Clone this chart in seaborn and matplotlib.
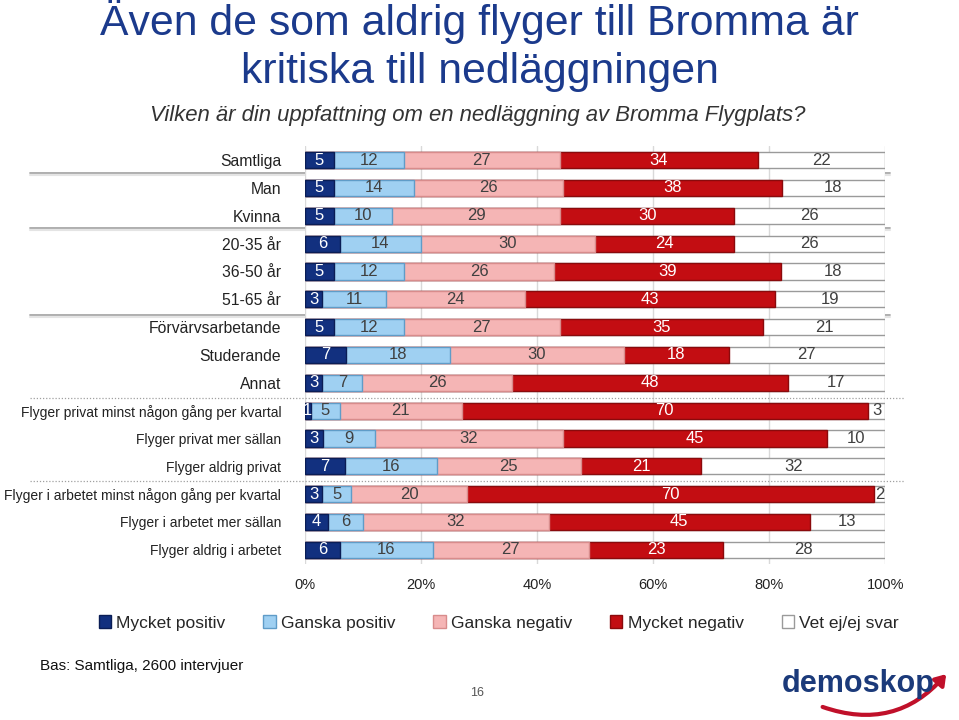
import numpy as np
import pandas as pd
import matplotlib
matplotlib.use("Agg")
import matplotlib.pyplot as plt
import matplotlib.patches as mpatches
import seaborn as sns

categories = ["Samtliga", "Man", "Kvinna", "20-35 år", "36-50 år", "51-65 år",
              "Förvärvsarbetande", "Studerande", "Annat",
              "Flyger privat minst någon gång per kvartal", "Flyger privat mer sällan",
              "Flyger aldrig privat",
              "Flyger i arbetet minst någon gång per kvartal", "Flyger i arbetet mer sällan",
              "Flyger aldrig i arbetet"]
series = ["Mycket positiv", "Ganska positiv", "Ganska negativ", "Mycket negativ", "Vet ej/ej svar"]
mycket_positiv = [5, 5, 5, 6, 5, 3, 5, 7, 3, 1, 3, 7, 3, 4, 6]
ganska_positiv = [12, 14, 10, 14, 12, 11, 12, 18, 7, 5, 9, 16, 5, 6, 16]
ganska_negativ = [27, 26, 29, 30, 26, 24, 27, 30, 26, 21, 32, 25, 20, 32, 27]
mycket_negativ = [34, 38, 30, 24, 39, 43, 35, 18, 48, 70, 45, 21, 70, 45, 23]
vet_ej = [22, 18, 26, 26, 18, 19, 21, 27, 17, 3, 10, 32, 2, 13, 28]
x_ticks = [0, 20, 40, 60, 80, 100]

colors = ["#12307f", "#9fd0f2", "#f5b5b5", "#c30d12", "#ffffff"]
edges = ["#0a1d55", "#5f9cc8", "#d88c8c", "#8a0a0c", "#9a9a9a"]
txt_colors = ["white", "#404040", "#404040", "white", "#404040"]

vals = np.array([mycket_positiv, ganska_positiv, ganska_negativ, mycket_negativ, vet_ej], dtype=float)
pct = vals / vals.sum(axis=0) * 100
cum = np.cumsum(pct, axis=0)

sns.set_theme(style="white")
plt.rcParams['font.family'] = ['Liberation Sans', 'DejaVu Sans']

fig = plt.figure(figsize=(9.59, 7.2), dpi=100)
ax = fig.add_axes([0.318, 0.217, 0.605, 0.58])

for i in range(4, -1, -1):
    df = pd.DataFrame({"cat": categories, "val": cum[i]})
    sns.barplot(data=df, x="val", y="cat", order=categories, orient="h",
                color=colors[i], edgecolor=edges[i], linewidth=1.0,
                width=0.58, saturation=1, ax=ax, zorder=3)

for i in range(5):
    for j in range(len(categories)):
        left = cum[i, j] - pct[i, j]
        cx = left + pct[i, j] / 2
        ax.text(cx, j, f"{int(vals[i, j])}", ha="center", va="center",
                color=txt_colors[i], fontsize=12, zorder=5)

ax.set_xlim(0, 100)
ax.set_ylim(len(categories) - 0.5, -0.5)
ax.set_xticks(x_ticks)
ax.set_xticklabels([f"{t}%" for t in x_ticks], fontsize=10.5, color="#222222")
ax.xaxis.grid(True, color="#d9d9d9", linewidth=1, zorder=0)
ax.set_axisbelow(True)
ax.set_xlabel("")
ax.set_ylabel("")
ax.tick_params(axis="y", length=0, pad=17)
ax.tick_params(axis="x", length=0, pad=10)
for j, lab in enumerate(ax.get_yticklabels()):
    lab.set_fontsize(11.3 if j < 9 else 10)
    lab.set_color("#222222")
for s in ax.spines.values():
    s.set_visible(False)

# group separators
for yy in [173, 228, 315]:
    fig.add_artist(plt.Line2D([30 / 959, 890 / 959], [1 - yy / 720, 1 - yy / 720],
                              color="#a8a8a8", linewidth=1.3, zorder=0))
    fig.add_artist(plt.Line2D([30 / 959, 890 / 959], [1 - (yy + 2) / 720, 1 - (yy + 2) / 720],
                              color="#e4e4e4", linewidth=1.5, zorder=0))
for yy in [398, 481]:
    fig.add_artist(plt.Line2D([30 / 959, 905 / 959], [1 - yy / 720, 1 - yy / 720],
                              color="#a0a0a0", linestyle=(0, (1, 1.5)), linewidth=0.9))

# title
fig.text(0.5, 1 - 22 / 720, "Även de som aldrig flyger till Bromma är", ha="center", va="center",
         fontsize=30.8, color="#1b3a8c")
fig.text(0.5, 1 - 72 / 720, "kritiska till nedläggningen", ha="center", va="center",
         fontsize=30.8, color="#1b3a8c")
fig.text(478 / 959, 1 - 116 / 720, "Vilken är din uppfattning om en nedläggning av Bromma Flygplats?",
         ha="center", va="center", fontsize=15.9, style="italic", color="#333333")

handles = [mpatches.Patch(facecolor=colors[i], edgecolor=edges[i], label=series[i]) for i in range(5)]
fig.legend(handles=handles, loc="center", bbox_to_anchor=(0.52, 1 - 623 / 720), ncol=5,
           frameon=False, fontsize=12.5, handlelength=0.7, handleheight=0.7,
           handletextpad=0.3, columnspacing=2.2)

fig.text(40 / 959, 1 - 666 / 720, "Bas: Samtliga, 2600 intervjuer", ha="left", va="center",
         fontsize=11, color="#111111")
fig.text(477 / 959, 1 - 693 / 720, "16", ha="center", va="center", fontsize=9, color="#555555")
fig.text(858 / 959, 1 - 684 / 720, "demoskop", ha="center", va="center", fontsize=22,
         fontweight="bold", color="#1b3a7a")
fig.add_artist(mpatches.FancyArrowPatch((820 / 959, 1 - 706 / 720), (948 / 959, 1 - 672 / 720),
                                        transform=fig.transFigure,
                                        connectionstyle="arc3,rad=0.35", arrowstyle="-|>,head_length=6,head_width=4",
                                        color="#c0102a", linewidth=3))

fig.savefig("out.png", dpi=100)
